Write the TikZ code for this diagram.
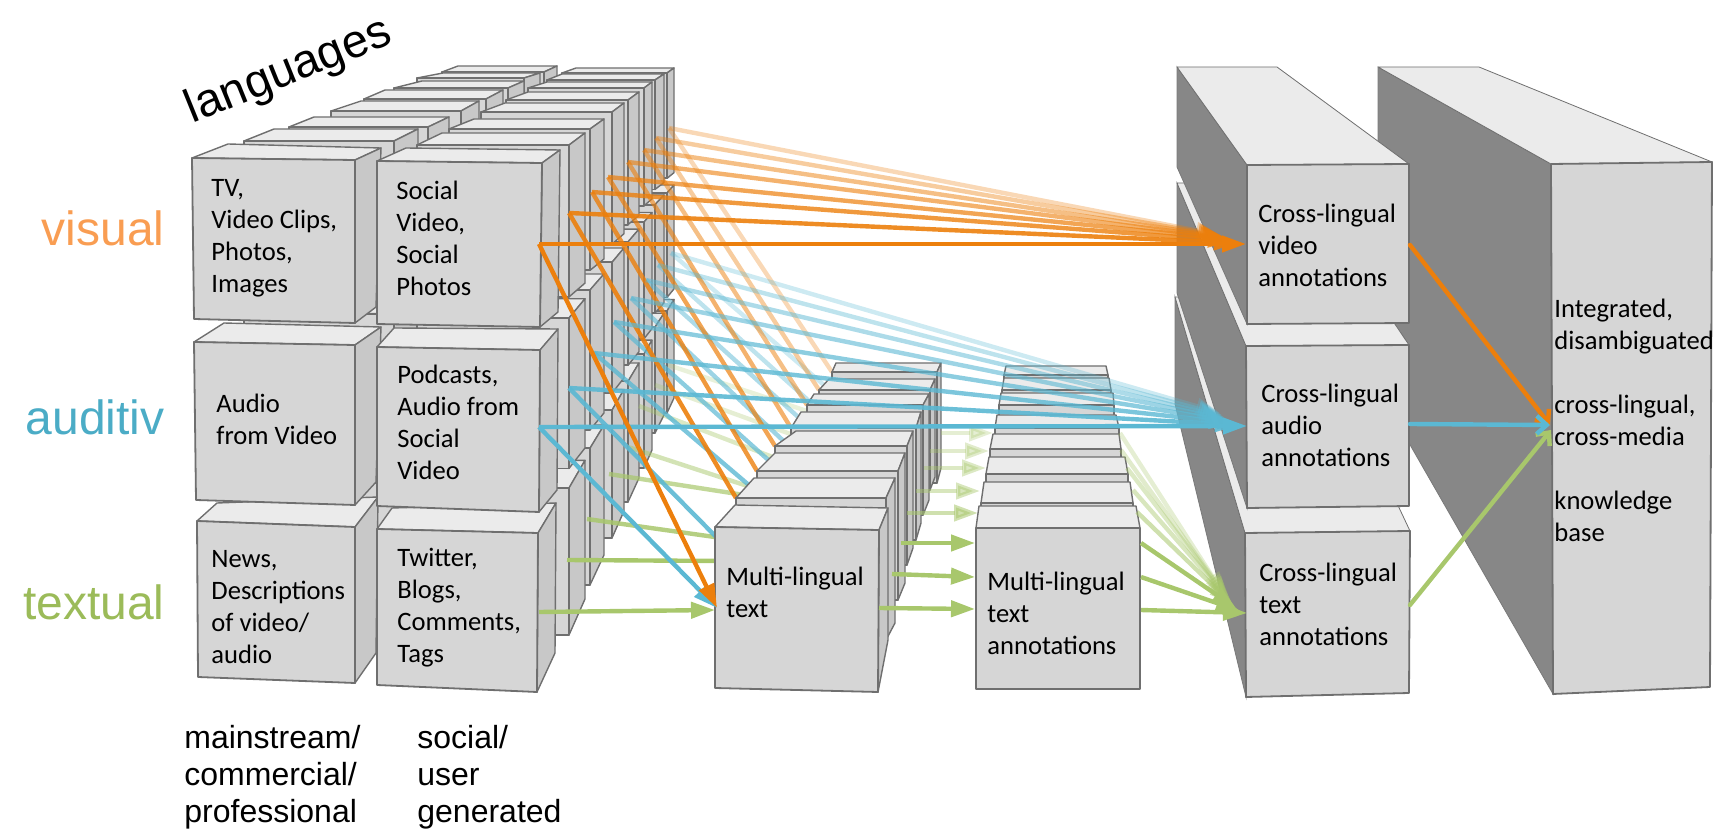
\documentclass[tikz,border=0pt]{standalone}
\usepackage{fontspec}
\setmainfont{Carlito}
\newfontfamily\headfont{Liberation Sans}
\usetikzlibrary{
  arrows.meta,
}
\definecolor{vidcol}{HTML}{EC7F0C}
\definecolor{audcol}{HTML}{5BB8D3}
\definecolor{txtcol}{HTML}{A8C76C}
\definecolor{facecol}{HTML}{D6D6D6}
\definecolor{topcol}{HTML}{EBEBEB}
\definecolor{sidecol}{HTML}{C8C8C8}
\definecolor{edgecol}{HTML}{6F6F6F}
\definecolor{darkcol}{HTML}{878787}
\definecolor{vishead}{HTML}{F99D52}
\definecolor{audhead}{HTML}{4BACC6}
\definecolor{txthead}{HTML}{9BBB59}
\tikzset{
  frontface/.style = {fill=facecol, draw=edgecol, line width=.9pt, line join=round},
  topface/.style = {fill=topcol, draw=edgecol, line width=.7pt, line join=round},
  sideface/.style = {fill=sidecol, draw=edgecol, line width=.7pt, line join=round},
  darkface/.style = {fill=darkcol, draw=darkcol!90!black, line width=.4pt},
  boxtext/.style = {anchor=west, align=left, inner sep=0pt,
      font=\fontsize{13.3}{16}\selectfont},
  sidehead/.style = {anchor=east, inner sep=0pt, font=\headfont\fontsize{24}{28}\selectfont},
  foothead/.style = {anchor=west, align=left, inner sep=0pt,
      font=\headfont\fontsize{16}{18.5}\selectfont},
  flow/.style = {line width=2.2pt, -{Triangle[length=12pt,width=8pt]}},
  bare/.style = {line width=2.2pt},
  merge/.style = {line width=2.2pt, line cap=round, -{Straight Barb[length=5pt,width=9pt]}},
}
% front, then back corners of one box
\newcommand{\cubeblock}[7]{
  \filldraw[topface] (#1) -- (#5) -- (#6) -- (#2) -- cycle;
  \filldraw[sideface] (#2) -- (#6) -- (#7) -- (#3) -- cycle;
  \filldraw[frontface] (#1) -- (#2) -- (#3) -- (#4) -- cycle;
}

\begin{document}
\begin{tikzpicture}[x=.5pt, y=-.5pt]
  \useasboundingbox (0,0) rectangle (1720,834);

  % knowledge base and cross-lingual boxes
  \filldraw[darkface] (1378,67) -- (1551,164) -- (1553,694) -- (1378,389) -- cycle;
  \filldraw[topface, line width=.4pt] (1378,67) -- (1479,67) -- (1712,162) -- (1551,164) -- cycle;
  \filldraw[frontface] (1551,164) -- (1712,162) -- (1710,687) -- (1553,694) -- cycle;

  \filldraw[darkface] (1175,297) -- (1245,533) -- (1246,697) -- (1175,404) -- cycle;
  \filldraw[topface, line width=.4pt] (1175,297) -- (1300,297) -- (1410,531) -- (1245,533) -- cycle;
  \filldraw[frontface] (1245,533) -- (1410,531) -- (1409,693) -- (1246,697) -- cycle;

  \filldraw[darkface] (1177,183) -- (1246,346) -- (1247,508) -- (1177,293) -- cycle;
  \filldraw[topface, line width=.4pt] (1177,183) -- (1300,183) -- (1409,345) -- (1246,346) -- cycle;
  \filldraw[frontface] (1246,346) -- (1409,345) -- (1409,506) -- (1247,508) -- cycle;

  \filldraw[darkface] (1177,67) -- (1247,165) -- (1247,324) -- (1177,167) -- cycle;
  \filldraw[topface, line width=.4pt] (1177,67) -- (1277,67) -- (1409,164) -- (1247,165) -- cycle;
  \filldraw[frontface] (1247,165) -- (1409,164) -- (1409,323) -- (1247,324) -- cycle;

  % language layers, back to front
  \foreach \xl/\xr/\yt/\yb/\dl/\dr/\dd in {
    442/544/72/410/16/13/6, 562/667/73/413/14/7/5,
    417/524/78/430/26/16/5, 547/655/80/433/15/9/6,
    394/508/88/465/28/16/7, 528/644/88/468/19/8/6,
    364/486/99/498/21/17/9, 506/628/100/502/22/11/8,
    331/461/111/534/30/18/10, 481/612/112/538/24/12/9,
    289/428/127/580/25/21/10, 449/590/129/585/25/14/10,
    244/394/141/630/30/24/12, 417/569/145/635/25/16/12
  }{
    \foreach \fa/\fb/\ma/\mb in {.70/1/2.3/3, .353/.66/1.6/1.7, 0/.31/1/1.15}{
      \pgfmathsetmacro\ya{\yt+(\yb-\yt)*\fa}
      \pgfmathsetmacro\yc{\yt+(\yb-\yt)*\fb}
      \cubeblock{\xl,\ya}{\xr,\ya}{\xr,\yc}{\xl,\yc}{\xl+\dl,\ya-\dd*\ma}{\xr+\dr,\ya-\dd*\ma}{\xr+\dr,\yc-\dd*\mb}
    }
  }

  \cubeblock{197,521}{355,527}{355,683}{198,677}{217,503}{378,497}{376,653}
  \cubeblock{194,342}{355,345}{355,505}{196,500}{224,323}{381,327}{376,482}
  \cubeblock{192,158}{355,160}{355,323}{194,319}{228,144}{381,148}{376,307}
  \cubeblock{377,529}{538,533}{537,692}{377,685}{392,508}{556,503}{555,653}
  \cubeblock{377,347}{540,350}{539,512}{377,506}{394,328}{558,329}{557,490}
  \cubeblock{377,161}{542,163}{540,327}{377,324}{406,148}{560,150}{558,312}

  % arrow ends
  \foreach \k/\x/\y in {1/539/244, 2/569/213, 3/592/192, 4/608/177,
      5/628/162, 6/644/150, 7/656/138, 8/669/128}
    \coordinate (vidfrom\k) at (\x,\y);
  \foreach \k/\x/\y in {1/1246/244, 2/1238/243, 3/1232/241, 4/1228/239,
      5/1226/238, 6/1224/237, 7/1222/236, 8/1220/235}
    \coordinate (vidto\k) at (\x,\y);
  \foreach \k/\x/\y in {1/717/608, 2/736/498, 3/757/471, 4/775/446,
      5/791/428, 6/807/405, 7/819/390, 8/832/372}
    \coordinate (vidin\k) at (\x,\y);
  \foreach \k/\x/\y in {1/539/427, 2/569/388, 3/594/353, 4/614/322,
      5/631/298, 6/646/280, 7/658/265, 8/671/253}
    \coordinate (audfrom\k) at (\x,\y);
  \foreach \k/\x/\y in {1/1247/426, 2/1239/425, 3/1233/423, 4/1229/421,
      5/1226/419, 6/1224/417, 7/1222/415, 8/1220/413}
    \coordinate (audto\k) at (\x,\y);
  \foreach \k/\x/\y in {1/717/608, 2/736/557, 3/757/492, 4/775/466,
      5/791/448, 6/807/425, 7/819/410, 8/832/392}
    \coordinate (audin\k) at (\x,\y);
  \foreach \k/\x/\y in {1/539/612, 2/567/560, 3/587/519, 4/609/474,
      5/628/447, 6/639/406, 7/655/385, 8/668/365}
    \coordinate (txtfrom\k) at (\x,\y);
  \foreach \k/\x/\y in {1/715/610, 2/725/561, 3/736/540, 4/757/497,
      5/775/495, 6/791/464, 7/807/440, 8/819/415}
    \coordinate (txtin\k) at (\x,\y);
  \foreach \k/\x/\y in {1/879/608, 2/892/574, 3/901/543, 4/907/513,
      5/916/491, 6/924/468, 7/930/451, 8/941/433}
    \coordinate (txtout\k) at (\x,\y);
  \foreach \k/\x/\y in {1/975/609, 2/975/577, 3/975/543, 4/978/513,
      5/980/491, 6/986/468, 7/989/451, 8/993/433}
    \coordinate (annin\k) at (\x,\y);
  \foreach \k/\x/\y in {1/1141/610, 2/1141/577, 3/1141/543, 4/1137/512,
      5/1133/490, 6/1127/468, 7/1121/450, 8/1120/433}
    \coordinate (annout\k) at (\x,\y);
  \foreach \k/\x/\y in {1/1247/613, 2/1240/611, 3/1236/608, 4/1233/605,
      5/1231/602, 6/1229/600, 7/1227/598, 8/1225/596}
    \coordinate (crossin\k) at (\x,\y);

  % these pass under the text stack
  \foreach \k/\op in {8/.25, 7/.3, 6/.4, 5/.5, 4/.7, 3/.85, 2/1}
    \draw[bare, txtcol, opacity=\op] (txtfrom\k) -- (txtin\k);
  \foreach \k/\op in {8/.3, 7/.4, 6/.5, 5/.6, 4/.7, 3/.8, 2/.9}
    \draw[bare, audcol, opacity=\op] (audfrom\k) -- (audin\k);
  \foreach \k/\op in {8/.3, 7/.4, 6/.5, 5/.6, 4/.7, 3/.8, 2/.9}
    \draw[bare, vidcol, opacity=\op] (vidfrom\k) -- (vidin\k);

  % multi-lingual text stack
  \foreach \xl/\xr/\yt/\yb/\bl/\br/\yk/\yl in {
    832/937/372/483/836/941/363/468,
    819/930/390/490/829/935/379/477,
    807/923/405/515/814/929/394/500,
    791/916/428/540/801/921/412/523,
    775/907/446/565/796/913/431/548,
    757/898/471/600/775/905/453/583,
    736/886/498/640/754/895/478/623
  }{
    \cubeblock{\xl,\yt}{\xr,\yt}{\xr,\yb}{\xl,\yb}{\bl,\yk}{\br,\yk}{\br,\yl}
  }
  \cubeblock{715,527}{879,530}{878,692}{715,688}{735,505}{888,508}{888,640}

  \foreach \k/\op in {8/.3, 7/.35, 6/.4, 5/.45, 4/.55, 3/1, 2/1, 1/1}
    \draw[flow, txtcol, opacity=\op] (txtout\k) -- (annin\k);

  % multi-lingual annotations stack
  \foreach \xl/\xr/\yt/\yb/\bl/\br/\yk in {
    1004/1108/375/400/1006/1106/366,
    1002/1111/390/415/1004/1109/378,
    999/1114/405/430/1001/1113/393,
    995/1119/428/453/997/1116/415,
    990/1121/449/474/993/1119/434,
    986/1128/474/499/989/1125/457,
    981/1133/503/528/984/1130/482,
    976/1140/528/689/979/1136/506
  }{
    \filldraw[topface] (\xl,\yt) -- (\bl,\yk) -- (\br,\yk) -- (\xr,\yt) -- cycle;
    \filldraw[frontface] (\xl,\yt) -- (\xr,\yt) -- (\xr,\yb) -- (\xl,\yb) -- cycle;
  }

  % long arrows on top
  \foreach \k/\op in {8/.3, 7/.35, 6/.4, 5/.45, 4/.55, 3/1, 2/1, 1/1}
    \draw[flow, txtcol, opacity=\op] (annout\k) -- (crossin\k);
  \foreach \k/\op in {8/.3, 7/.4, 6/.5, 5/.6, 4/.7, 3/.8, 2/.9, 1/1}
    \draw[flow, audcol, opacity=\op] (audfrom\k) -- (audto\k);
  \foreach \k/\op in {8/.3, 7/.4, 6/.5, 5/.6, 4/.7, 3/.8, 2/.9, 1/1}
    \draw[flow, vidcol, opacity=\op] (vidfrom\k) -- (vidto\k);

  \draw[flow, txtcol] (txtfrom1) -- (txtin1);
  \draw[flow, audcol] (audfrom1) -- (audin1);
  \draw[flow, vidcol] (vidfrom1) -- (vidin1);

  \coordinate (vidout) at (1410,245);
  \coordinate (audout) at (1410,424);
  \coordinate (txtout) at (1410,605);
  \coordinate (basein) at (1550,425);
  \coordinate (basein2) at (1551,430);
  \draw[merge, vidcol] (vidout) -- (basein);
  \draw[merge, txtcol] (txtout) -- (basein2);
  \draw[merge, audcol] (audout) -- (basein);

  % box texts
  \node[boxtext] (tv) at (211,238) {TV,\\Video Clips,\\Photos,\\Images};
  \node[boxtext] (socvid) at (396,238) {Social\\Video,\\Social\\Photos};
  \node[boxtext] (audvid) at (216,419) {Audio\\from Video};
  \node[boxtext] (podcast) at (397,422) {Podcasts,\\Audio from\\Social\\Video};
  \node[boxtext] (news) at (211,607) {News,\\Descriptions\\of video/\\audio};
  \node[boxtext] (twitter) at (397,608) {Twitter,\\Blogs,\\Comments,\\Tags};
  \node[boxtext] (mltext) at (726,592) {Multi-lingual\\text};
  \node[boxtext] (mlann) at (987,613) {Multi-lingual\\text\\annotations};
  \node[boxtext] (clvid) at (1258,245) {Cross-lingual\\video\\annotations};
  \node[boxtext] (claud) at (1261,425) {Cross-lingual\\audio\\annotations};
  \node[boxtext] (cltxt) at (1259,604) {Cross-lingual\\text\\annotations};
  \node[boxtext] (kb) at (1554,420) {Integrated,\\disambiguated\\[16pt]cross-lingual,\\cross-media\\[16pt]knowledge\\base};

  % side and foot labels
  \node[sidehead, text=vishead] (visual) at (165,228) {visual};
  \node[sidehead, text=audhead] (auditiv) at (165,417) {auditiv};
  \node[sidehead, text=txthead] (textual) at (165,602) {textual};
  \node[inner sep=0pt, rotate=22, font=\headfont\fontsize{23.5}{28}\selectfont] (lang) at (289,72) {languages};
  \node[foothead] (mainstream) at (184,777) {mainstream/\\commercial/\\professional};
  \node[foothead] (social) at (417,777) {social/\\user\\generated};
\end{tikzpicture}
\end{document}
